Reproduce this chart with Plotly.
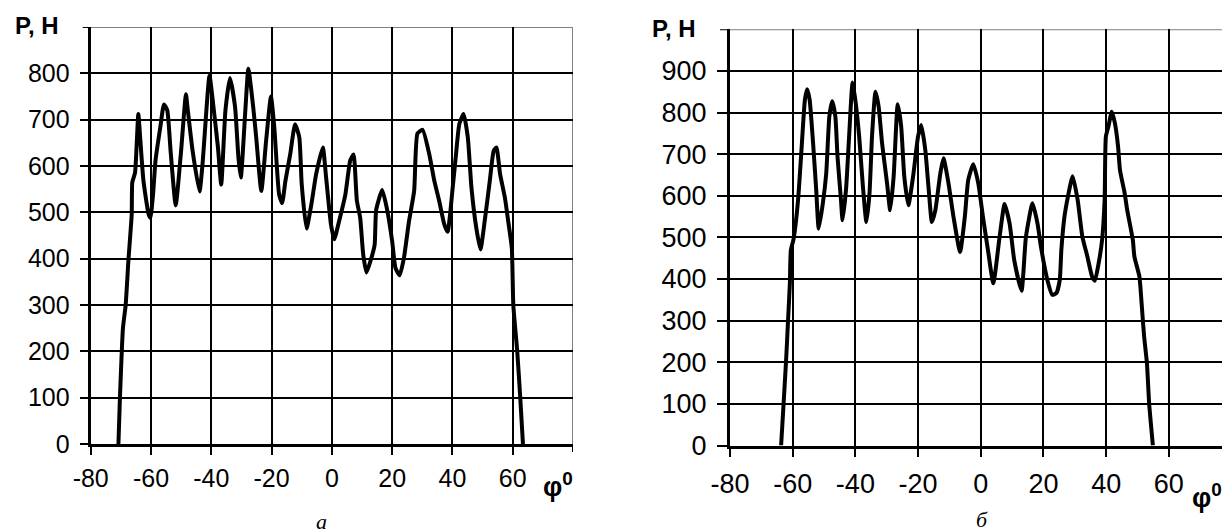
import plotly.graph_objects as go

# ---- data: chart "а" (left) ----
phi_a = [-70.8, -70.3, -69.3, -68.4, -67.5, -66.4, -66.2, -65.3, -64.2, -63.6, -62.5, -60.8, -60.2,
         -59.3, -58.5, -56.9, -55.7, -54.6, -53.5, -51.8, -50.1, -48.4, -47.9, -46.2, -43.9, -42.8,
         -41.7, -40.6, -38.9, -37.8, -36.7, -35.3, -33.8, -32.1, -31.0, -30.2, -28.7, -27.7, -26.1,
         -25.1, -23.4, -21.8, -20.2, -19.1, -17.5, -16.5, -15.4, -13.8, -12.2, -10.8, -10.0, -8.4,
         -6.8, -5.2, -3.0, -1.9, -0.3, 0.8, 2.4, 4.5, 6.1, 7.2, 8.3, 9.4, 10.4, 11.5, 13.1, 14.2,
         14.7, 16.7, 18.2, 20.0, 21.1, 22.5, 23.9, 25.6, 27.3, 28.4, 30.1, 32.3, 34.0, 35.6, 37.3,
         38.4, 40.1, 41.2, 42.3, 43.7, 45.1, 46.3, 47.9, 49.3, 50.7, 52.4, 53.7, 54.6, 55.8, 57.4,
         58.5, 59.7, 60.2, 61.5, 62.5, 63.4]
P_a = [0, 100, 250, 300, 395, 495, 565, 585, 712, 662, 568, 496, 488,
       540, 612, 684, 733, 720, 633, 515, 626, 755, 727, 633, 545, 612,
       713, 795, 706, 641, 560, 720, 790, 727, 619, 575, 720, 810, 728,
       662, 546, 655, 750, 684, 539, 520, 568, 626, 690, 662, 561, 465,
       517, 583, 640, 575, 474, 442, 481, 539, 612, 625, 525, 488, 409, 370, 401, 430,
       505, 548, 510, 438, 380, 364, 401, 481, 546, 670, 678, 626, 568, 525, 474,
       458, 554, 626, 691, 712, 662, 554, 467, 420, 481, 568, 633, 640, 583, 532,
       481, 423, 300, 200, 100, 0]

# ---- data: chart "б" (right) ----
phi_b = [-63.7, -63.3, -62.1, -61.5, -60.9, -60.6, -59.8, -59.3, -58.2, -57.2, -56.1, -55.4, -54.6,
         -53.5, -52.5, -51.7, -50.4, -49.3, -48.3, -47.4, -46.4, -45.7, -44.6, -44.1, -43.0, -42.0,
         -40.9, -39.9, -38.8, -37.6, -36.5, -35.5, -34.7, -33.6, -32.6, -31.5, -29.9, -28.9, -27.8,
         -26.5, -25.4, -24.4, -23.1, -21.6, -20.0, -19.0, -17.7, -16.6, -15.6, -14.5, -12.9, -11.9,
         -10.3, -8.7, -6.6, -5.1, -4.0, -2.4, -0.8, 0.7, 2.3, 4.0, 6.0, 7.6, 9.2, 10.7, 13.0, 14.4,
         16.5, 18.1, 19.2, 21.3, 22.8, 24.1, 25.2, 25.7, 26.7, 27.8, 29.3, 30.9, 32.4, 34.0, 35.5,
         36.4, 37.6, 38.7, 39.5, 39.9, 40.7, 41.8, 42.8, 43.8, 44.4, 45.9, 46.7, 48.5, 49.0, 50.6,
         51.3, 52.1, 53.0, 53.7, 54.9]
P_b = [0, 50, 205, 298, 390, 469, 493, 517, 598, 710, 831, 856, 831,
       727, 614, 521, 581, 654, 791, 827, 791, 694, 590, 541, 614, 743,
       872, 823, 743, 622, 537, 606, 743, 850, 815, 727, 630, 565, 646,
       820, 767, 646, 577, 646, 743, 770, 710, 614, 537, 565, 654, 690,
       630, 549, 465, 549, 638, 676, 630, 549, 469, 390, 501, 580, 533, 444, 372, 501,
       582, 533, 477, 396, 362, 366, 398, 470, 550, 598, 647, 590, 502, 454, 406,
       396, 438, 494, 590, 742, 766, 802, 774, 718, 662, 606, 566, 494, 454, 406,
       342, 262, 198, 102, 0]

x_ticks_a = [-80, -60, -40, -20, 0, 20, 40, 60]
x_ticks_b = [-80, -60, -40, -20, 0, 20, 40, 60]
y_ticks_a = [0, 100, 200, 300, 400, 500, 600, 700, 800]
y_ticks_b = [0, 100, 200, 300, 400, 500, 600, 700, 800, 900]

# page has an 8px body margin: figure is sized so that it fills the 1230x531 window
OFF = 8
W, H = 1230 - OFF, 531 - OFF
FONT = "Liberation Sans, Arial, sans-serif"

def fx(p):  # window pixel x -> figure fraction
    return (p - OFF) / W

def fy(p):  # window pixel y -> figure fraction (from bottom)
    return 1 - (p - OFF) / H

fig = go.Figure()
fig.add_trace(go.Scatter(x=phi_a, y=P_a, mode="lines", xaxis="x", yaxis="y",
                         line=dict(color="black", width=4, shape="spline", smoothing=0.5),
                         showlegend=False, hoverinfo="skip"))
fig.add_trace(go.Scatter(x=phi_b, y=P_b, mode="lines", xaxis="x2", yaxis="y2",
                         line=dict(color="black", width=4, shape="spline", smoothing=0.5),
                         showlegend=False, hoverinfo="skip"))

common = dict(ticks="outside", ticklen=8, tickwidth=2, tickcolor="black",
              showline=True, linecolor="black", linewidth=3,
              showgrid=True, gridcolor="black", gridwidth=1.6, zeroline=False,
              fixedrange=True, automargin=False)

def lbl(vals):
    return [str(v) for v in vals]

fig.update_layout(
    width=W, height=H,
    margin=dict(l=0, r=0, t=0, b=0),
    paper_bgcolor="white", plot_bgcolor="white",
    font=dict(family=FONT, color="black"),
    xaxis=dict(domain=[fx(90.7), fx(573)], range=[-80, 80], tickvals=x_ticks_a,
               ticktext=lbl(x_ticks_a),
               anchor="y", tickfont=dict(size=25), ticklabelstandoff=2, **common),
    yaxis=dict(domain=[fy(444), fy(27)], range=[0, 900], tickvals=y_ticks_a,
               ticktext=lbl(y_ticks_a),
               anchor="x", tickfont=dict(size=25), ticklabelstandoff=5, **common),
    xaxis2=dict(domain=[fx(730), 1.0], range=[-80, 79.5], tickvals=x_ticks_b,
                ticktext=lbl(x_ticks_b),
                anchor="y2", tickfont=dict(size=27), ticklabelstandoff=4, **common),
    yaxis2=dict(domain=[fy(445.5), fy(29.3)], range=[0, 1000], tickvals=y_ticks_b,
                ticktext=lbl(y_ticks_b),
                anchor="x2", tickfont=dict(size=27), ticklabelstandoff=5,
                **{**common, "ticklen": 10}),
)

gray = "#808080"
shapes = [
    dict(type="line", xref="x", yref="y", x0=-80, x1=80, y0=900, y1=900,
         line=dict(color=gray, width=2), layer="below"),
    dict(type="line", xref="x", yref="y", x0=80, x1=80, y0=0, y1=900,
         line=dict(color=gray, width=2), layer="below"),
    dict(type="line", xref="x2", yref="y2", x0=-80, x1=79.5, y0=1000, y1=1000,
         line=dict(color=gray, width=2), layer="below"),
    dict(type="line", xref="x domain", yref="y", x0=-8 / 482.3, x1=0, y0=900, y1=900,
         line=dict(color="black", width=2)),
    dict(type="line", xref="x2 domain", yref="y2", x0=-10 / 500, x1=0, y0=1000, y1=1000,
         line=dict(color="black", width=2)),
    dict(type="line", xref="x", yref="y domain", x0=80, x1=80, y0=0, y1=-8 / 417,
         line=dict(color="black", width=2)),
]
fig.update_layout(shapes=shapes)

ann = []
for (xp, yp, txt) in [(36.7, 25, "P, H"), (674, 29, "P, H")]:
    ann.append(dict(x=fx(xp), y=fy(yp), xref="paper", yref="paper", text="<b>" + txt + "</b>",
                    showarrow=False, xanchor="center", yanchor="middle",
                    font=dict(size=24, family=FONT)))
for (xp, yp) in [(541, 485), (1190, 496)]:
    ann.append(dict(x=fx(xp), y=fy(yp), xref="paper", yref="paper",
                    text="<b>φ<sup>0</sup></b>",
                    showarrow=False, xanchor="left", yanchor="middle",
                    font=dict(size=27, family=FONT)))
for (xp, yp, txt) in [(321, 521, "а"), (982, 519, "б")]:
    ann.append(dict(x=fx(xp), y=fy(yp), xref="paper", yref="paper", text="<i>" + txt + "</i>",
                    showarrow=False, xanchor="center", yanchor="middle",
                    font=dict(size=22, family="Liberation Serif, Times New Roman, serif")))
fig.update_layout(annotations=ann)

fig.write_html("out.html")
